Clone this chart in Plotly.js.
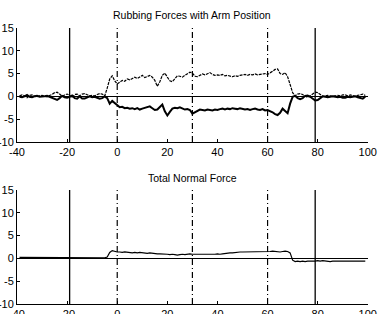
<!DOCTYPE html>
<html>
<head>
<meta charset="utf-8">
<script src="https://cdn.plot.ly/plotly-3.0.1.min.js"></script>
<style>html,body{margin:0;padding:0;background:#fff;}#chart{width:378px;height:314px;}</style>
</head>
<body>
<div id="chart"></div>
<script>
// Arm position samples
var armPos = [-39,-38,-37,-36,-35,-34,-33,-32,-31,-30,-29,-28,-27,-26,-25,-24,-23,-22,-21,-20,
-19,-18,-17,-16,-15,-14,-13,-12,-11,-10,-9,-8,-7,-6,-5,-4,-3,-2,-1,
0,1,2,3,4,5,6,7,8,9,10,11,12,13,14,15,16,17,18,19,20,21,22,23,24,25,26,27,28,29,
30,31,32,33,34,35,36,37,38,39,40,41,42,43,44,45,46,47,48,49,50,51,52,53,54,55,56,57,58,59,
60,61,62,63,64,65,66,67,68,69,70,71,72,73,74,75,76,77,78,79,80,81,82,83,84,85,86,87,88,89,
90,91,92,93,94,95,96,97,98,99];

// Rubbing force, upper (dotted) trace
var rubUpper = [0.1,0.3,0.1,-0.3,0.2,0.3,0.0,-0.1,0.1,0.2,0.0,-0.1,0.2,0.4,0.8,0.9,0.5,0.0,0.3,0.5,
0.2,-0.3,0.4,0.5,0.1,0.5,0.6,0.4,0.1,0.2,0.1,0.4,0.6,0.5,0.1,1.8,3.8,4.5,3.4,
2.7,3.1,3.5,3.3,3.8,3.6,3.9,4.2,3.9,4.3,4.6,4.1,4.4,4.6,4.2,3.5,2.2,3.2,4.6,5.1,4.2,3.4,3.2,3.9,4.5,4.4,4.2,4.6,4.9,5.3,
5.1,4.4,4.3,4.6,4.9,4.7,5.0,5.2,4.8,4.6,4.7,4.6,4.8,4.5,4.6,4.4,4.3,4.5,4.4,4.6,4.7,4.8,4.6,4.8,4.7,4.9,4.7,4.8,4.9,5.0,
4.8,5.1,5.5,5.9,6.0,5.0,4.8,5.2,4.3,2.6,0.8,0.1,0.5,0.6,0.4,0.0,-0.2,0.1,0.5,0.9,0.8,0.3,0.0,0.1,0.2,0.1,0.0,0.1,0.2,0.1,
0.3,0.3,0.1,0.3,0.1,0.0,0.2,0.4,0.5,0.2];

// Rubbing force, lower (solid) trace
var rubLower = [-0.1,-0.2,0.0,0.3,-0.1,-0.2,0.0,0.1,-0.1,-0.1,0.0,0.1,-0.1,-0.3,-0.6,-0.8,-0.4,0.1,-0.2,-0.3,
-0.1,0.2,-0.4,-0.5,0.0,-0.5,-0.5,-0.3,0.0,-0.2,-0.1,-0.3,-0.5,-0.4,0.0,-0.4,-1.6,-1.0,-1.5,
-1.9,-2.4,-2.3,-2.6,-2.5,-2.7,-2.6,-2.8,-2.6,-2.9,-2.7,-2.5,-2.4,-2.2,-2.6,-3.0,-2.9,-2.4,-1.8,-3.3,-4.2,-3.4,-2.7,-2.5,-2.6,-2.4,-2.7,-2.9,-2.8,-3.0,
-3.8,-3.5,-3.1,-2.9,-3.0,-3.1,-2.9,-3.0,-3.1,-2.9,-3.0,-2.8,-2.7,-2.9,-2.7,-2.8,-2.6,-2.7,-2.8,-2.6,-2.7,-2.9,-2.8,-3.0,-2.8,-2.7,-2.9,-3.0,-2.8,-3.1,
-3.0,-3.2,-3.5,-3.9,-4.1,-3.6,-2.7,-3.2,-3.7,-1.6,-0.1,0.1,-0.4,-0.6,-0.4,0.1,0.2,-0.1,-0.5,-0.9,-0.8,-0.3,0.0,-0.1,-0.2,-0.1,0.0,-0.1,-0.2,-0.1,
-0.3,-0.3,-0.1,-0.2,-0.1,0.0,-0.2,-0.4,-0.5,-0.1];

// Total normal force
var normalForce = [0.2,0.2,0.1,0.2,0.2,0.1,0.2,0.2,0.2,0.1,0.2,0.2,0.2,0.1,0.2,0.2,0.1,0.2,0.2,0.2,
0.1,0.2,0.2,0.2,0.1,0.2,0.2,0.1,0.2,0.2,0.1,0.2,0.2,0.1,0.1,0.3,1.3,1.7,1.5,
1.4,1.4,1.3,1.4,1.3,1.3,1.2,1.3,1.2,1.3,1.2,1.2,1.1,1.2,1.1,1.1,1.0,1.0,1.0,0.9,0.9,0.8,0.9,0.8,0.7,0.8,0.9,0.8,0.9,1.0,
0.9,0.9,0.8,0.9,0.8,0.9,0.9,0.8,0.9,0.9,1.0,0.9,1.0,1.1,1.1,1.2,1.2,1.3,1.3,1.4,1.4,1.4,1.5,1.5,1.4,1.5,1.5,1.5,1.5,1.5,
1.5,1.5,1.6,1.5,1.5,1.4,1.5,1.6,1.5,1.2,-0.4,-0.7,-0.6,-0.7,-0.6,-0.7,-0.6,-0.6,-0.7,-0.6,-0.5,-0.6,-0.5,-0.6,-0.6,-0.7,-0.6,-0.6,-0.7,-0.6,
-0.6,-0.7,-0.6,-0.7,-0.6,-0.6,-0.7,-0.7,-0.7,-0.6];

// Reference markers
var solidMarks = [-19, 79];
var phaseMarks = [0, 30, 60];
var xTicks = [-40,-20,0,20,40,60,80,100];
var xTickText = ["-40","-20","0","20","40","60","80","100"];
var yTicks = [-10,-5,0,5,10,15];
var yTickText = ["-10","-5","0","5","10","15"];
var titles = ["Rubbing Forces with Arm Position", "Total Normal Force"];

var traces = [
  {x: armPos, y: rubUpper, xaxis:'x', yaxis:'y', mode:'lines', line:{color:'#000', width:1.2, dash:'3px,1px'}, hoverinfo:'skip'},
  {x: armPos, y: rubLower, xaxis:'x', yaxis:'y', mode:'lines', line:{color:'#000', width:2}, hoverinfo:'skip'},
  {x: armPos, y: normalForce, xaxis:'x2', yaxis:'y2', mode:'lines', line:{color:'#000', width:1.2}, hoverinfo:'skip'}
];

var shapes = [];
['y','y2'].forEach(function(yr, i){
  var xr = i === 0 ? 'x' : 'x2';
  solidMarks.forEach(function(v){
    shapes.push({type:'line', xref:xr, yref:yr, x0:v, x1:v, y0:-10, y1:15, line:{color:'#000', width:1.3}});
  });
  phaseMarks.forEach(function(v){
    shapes.push({type:'line', xref:xr, yref:yr, x0:v, x1:v, y0:-10, y1:15, line:{color:'#000', width:1.2, dash:'6px,3px,1px,3px'}});
  });
});

function xax(anchor){
  return {domain:[0.045,0.973], range:[-40,100], anchor:anchor, tickvals:xTicks, ticktext:xTickText,
    ticks:'inside', ticklen:3, tickcolor:'#000', showline:true, linecolor:'#000', linewidth:1, mirror:false,
    showgrid:false, zeroline:false, tickfont:{family:'Liberation Sans, Arial, sans-serif', size:11, color:'#000'}};
}
function yax(anchor, dom){
  return {domain:dom, range:[-10,15], anchor:anchor, tickvals:yTicks, ticktext:yTickText,
    ticks:'inside', ticklen:3, tickcolor:'#000', showline:true, linecolor:'#000', linewidth:1, mirror:false,
    showgrid:false, zeroline:true, zerolinecolor:'#000', zerolinewidth:1.2,
    tickfont:{family:'Liberation Sans, Arial, sans-serif', size:11, color:'#000'}};
}

var layout = {
  width:378, height:314, margin:{l:0,r:0,t:0,b:0}, showlegend:false,
  paper_bgcolor:'#fff', plot_bgcolor:'#fff',
  xaxis: xax('y'), yaxis: yax('x',[0.548,0.911]),
  xaxis2: xax('y2'), yaxis2: yax('x2',[0.032,0.395]),
  shapes: shapes,
  annotations: [
    {text:titles[0], xref:'paper', yref:'paper', x:0.509, y:0.952, showarrow:false, xanchor:'center', yanchor:'middle',
      font:{family:'Liberation Sans, Arial, sans-serif', size:10.5, color:'#000'}},
    {text:titles[1], xref:'paper', yref:'paper', x:0.509, y:0.433, showarrow:false, xanchor:'center', yanchor:'middle',
      font:{family:'Liberation Sans, Arial, sans-serif', size:10.5, color:'#000'}}
  ]
};

Plotly.newPlot('chart', traces, layout, {staticPlot:true, displayModeBar:false});
</script>
</body>
</html>
